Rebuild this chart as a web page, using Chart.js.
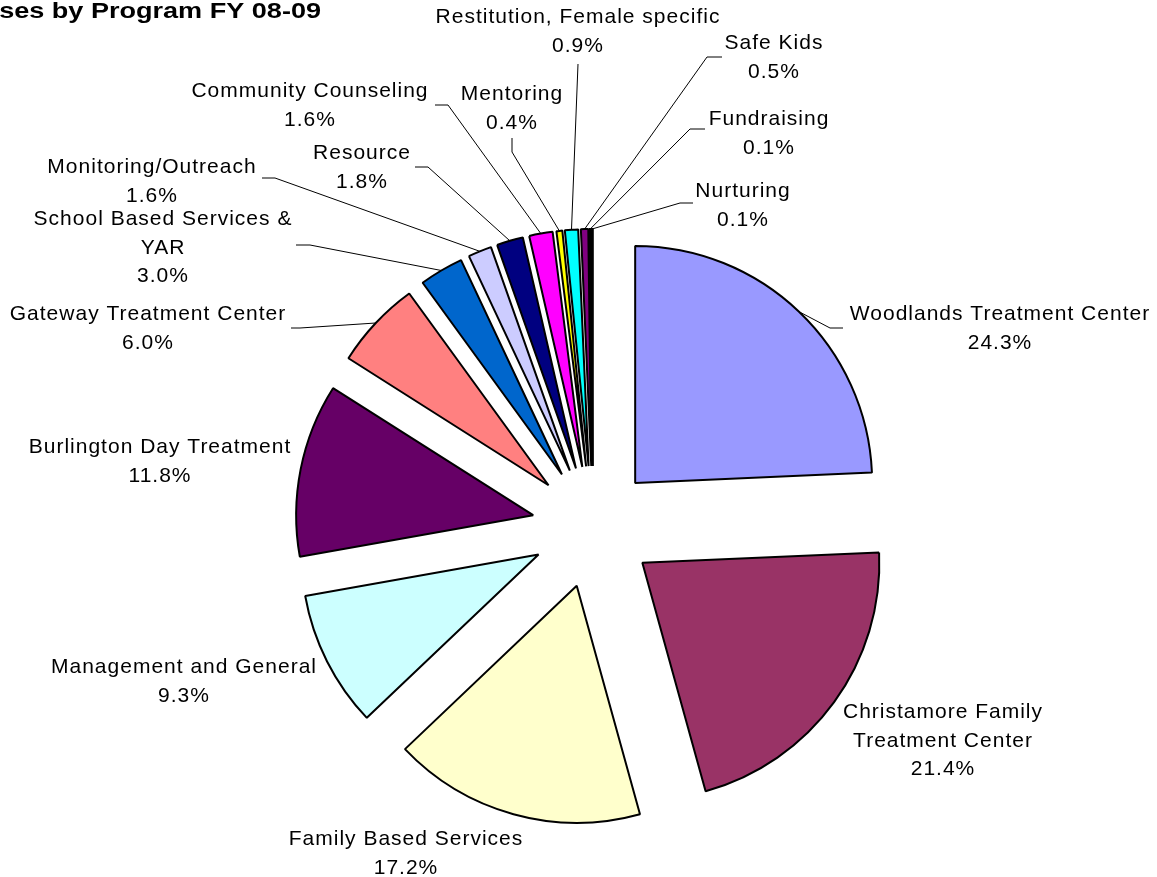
<!DOCTYPE html>
<html lang="en">
<head>
<meta charset="UTF-8">
<title>Expenses by Program FY 08-09</title>
<script src="https://cdn.jsdelivr.net/npm/chart.js@4.4.1/dist/chart.umd.min.js"></script>
<style>
  html, body { margin: 0; padding: 0; background: #fff; overflow: hidden; }
</style>
</head>
<body>
<canvas id="programChart" width="1157" height="877"></canvas>
<script>
// programs, clockwise from 12 o'clock
const programs = [
  'Woodlands Treatment Center',
  'Christamore Family Treatment Center',
  'Family Based Services',
  'Management and General',
  'Burlington Day Treatment',
  'Gateway Treatment Center',
  'School Based Services & YAR',
  'Monitoring/Outreach',
  'Resource',
  'Community Counseling',
  'Mentoring',
  'Restitution, Female specific',
  'Safe Kids',
  'Fundraising',
  'Nurturing'
];
// share of total expenses (%)
const shares = [24.3, 21.4, 17.2, 9.3, 11.8, 6.0, 3.0, 1.6, 1.8, 1.6, 0.4, 0.9, 0.5, 0.1, 0.1];

const sliceColors = [
  '#9999FF', '#993366', '#FFFFCC', '#CCFFFF', '#660066', '#FF8080', '#0066CC', '#CCCCFF',
  '#000080', '#FF00FF', '#FFFF00', '#00FFFF', '#800080', '#800000', '#008080'
];

const chartTitle = 'Expenses by Program FY 08-09';

// label placement: centre x, baseline of first line, wrap width, leader [label end, elbow]
const labelLayout = [
  { x: 1000, y: 320, wrap: 400, leader: [[843, 328], [830, 328]] },
  { x: 943,  y: 718, wrap: 210, leader: null },
  { x: 406,  y: 845, wrap: 400, leader: null },
  { x: 184,  y: 673, wrap: 400, leader: null },
  { x: 160,  y: 453, wrap: 400, leader: null },
  { x: 148,  y: 320, wrap: 400, leader: [[291, 328], [300, 328]] },
  { x: 163,  y: 225, wrap: 270, leader: [[296, 245], [310, 245]] },
  { x: 152,  y: 173, wrap: 400, leader: [[262, 178], [275, 178]] },
  { x: 362,  y: 159, wrap: 400, leader: [[415, 167], [428, 167]] },
  { x: 310,  y: 97,  wrap: 400, leader: [[435, 105], [448, 105]] },
  { x: 512,  y: 100, wrap: 400, leader: [[512, 138], [512, 152]] },
  { x: 578,  y: 23,  wrap: 400, leader: [[578, 64], [578, 64]] },
  { x: 774,  y: 49,  wrap: 400, leader: [[722, 57], [707, 57]] },
  { x: 769,  y: 125, wrap: 400, leader: [[705, 129], [690, 129]] },
  { x: 743,  y: 197, wrap: 400, leader: [[693, 203], [680, 203]] }
];

const EXPLODE = 61;      // distance each slice is pulled out from the centre
const PIE_RADIUS = 237;
const LABEL_FONT = '21px "Liberation Sans", Arial, sans-serif';
const LINE_H = 28.5;

function wrapText(ctx, text, maxW) {
  const words = text.split(' ');
  const lines = [];
  let cur = '';
  words.forEach(w => {
    const test = cur ? cur + ' ' + w : w;
    if (cur && ctx.measureText(test).width > maxW) {
      lines.push(cur);
      cur = w;
    } else {
      cur = test;
    }
  });
  if (cur) lines.push(cur);
  return lines;
}

// draw every arc pulled out by the same distance (chart.js offset also grows thin slices)
const explodePlugin = {
  id: 'explodeSlices',
  beforeDatasetDraw(chart, args) {
    const ctx = chart.ctx;
    args.meta.data.forEach(arc => {
      const mid = (arc.startAngle + arc.endAngle) / 2;
      ctx.save();
      ctx.translate(Math.cos(mid) * EXPLODE, Math.sin(mid) * EXPLODE);
      arc.draw(ctx);
      ctx.restore();
    });
    return false;
  }
};

// title runs off the left edge of the picture, as in the original
const titlePlugin = {
  id: 'clippedTitle',
  afterDraw(chart) {
    const ctx = chart.ctx;
    const sx = 1.23;
    ctx.save();
    ctx.scale(sx, 1);
    ctx.font = 'bold 22px "Liberation Sans", Arial, sans-serif';
    ctx.fillStyle = '#000';
    ctx.textAlign = 'right';
    ctx.textBaseline = 'alphabetic';
    ctx.fillText(chartTitle, 321 / sx, 18);
    ctx.restore();
  }
};

const labelPlugin = {
  id: 'sliceLabels',
  afterDatasetsDraw(chart) {
    const ctx = chart.ctx;
    const meta = chart.getDatasetMeta(0);
    ctx.save();
    ctx.font = LABEL_FONT;
    ctx.letterSpacing = '1px';
    ctx.fillStyle = '#000';
    ctx.strokeStyle = '#000';
    ctx.lineWidth = 1;
    ctx.textAlign = 'center';
    ctx.textBaseline = 'alphabetic';

    meta.data.forEach((arc, i) => {
      const p = arc.getProps(['x', 'y', 'startAngle', 'endAngle', 'outerRadius'], true);
      const mid = (p.startAngle + p.endAngle) / 2;
      const r = p.outerRadius + EXPLODE;
      const ax = p.x + Math.cos(mid) * r;
      const ay = p.y + Math.sin(mid) * r;
      const lay = labelLayout[i];

      if (lay.leader) {
        const [end, elbow] = lay.leader;
        ctx.beginPath();
        ctx.moveTo(ax, ay);
        ctx.lineTo(elbow[0], elbow[1]);
        ctx.lineTo(end[0], end[1]);
        ctx.stroke();
      }

      const lines = wrapText(ctx, programs[i], lay.wrap);
      lines.push(shares[i].toFixed(1) + '%');
      lines.forEach((ln, k) => {
        ctx.fillText(ln, lay.x, lay.y + k * LINE_H);
      });
    });
    ctx.restore();
  }
};

new Chart(document.getElementById('programChart'), {
  type: 'pie',
  data: {
    labels: programs,
    datasets: [{
      data: shares,
      backgroundColor: sliceColors,
      borderColor: '#000',
      borderWidth: 2
    }]
  },
  options: {
    responsive: false,
    animation: false,
    events: [],
    radius: PIE_RADIUS,
    layout: { padding: { left: 29, top: 177, right: 0, bottom: 0 } },
    plugins: {
      legend: { display: false },
      tooltip: { enabled: false },
      title: { display: false }
    }
  },
  plugins: [explodePlugin, labelPlugin, titlePlugin]
});
</script>
</body>
</html>
